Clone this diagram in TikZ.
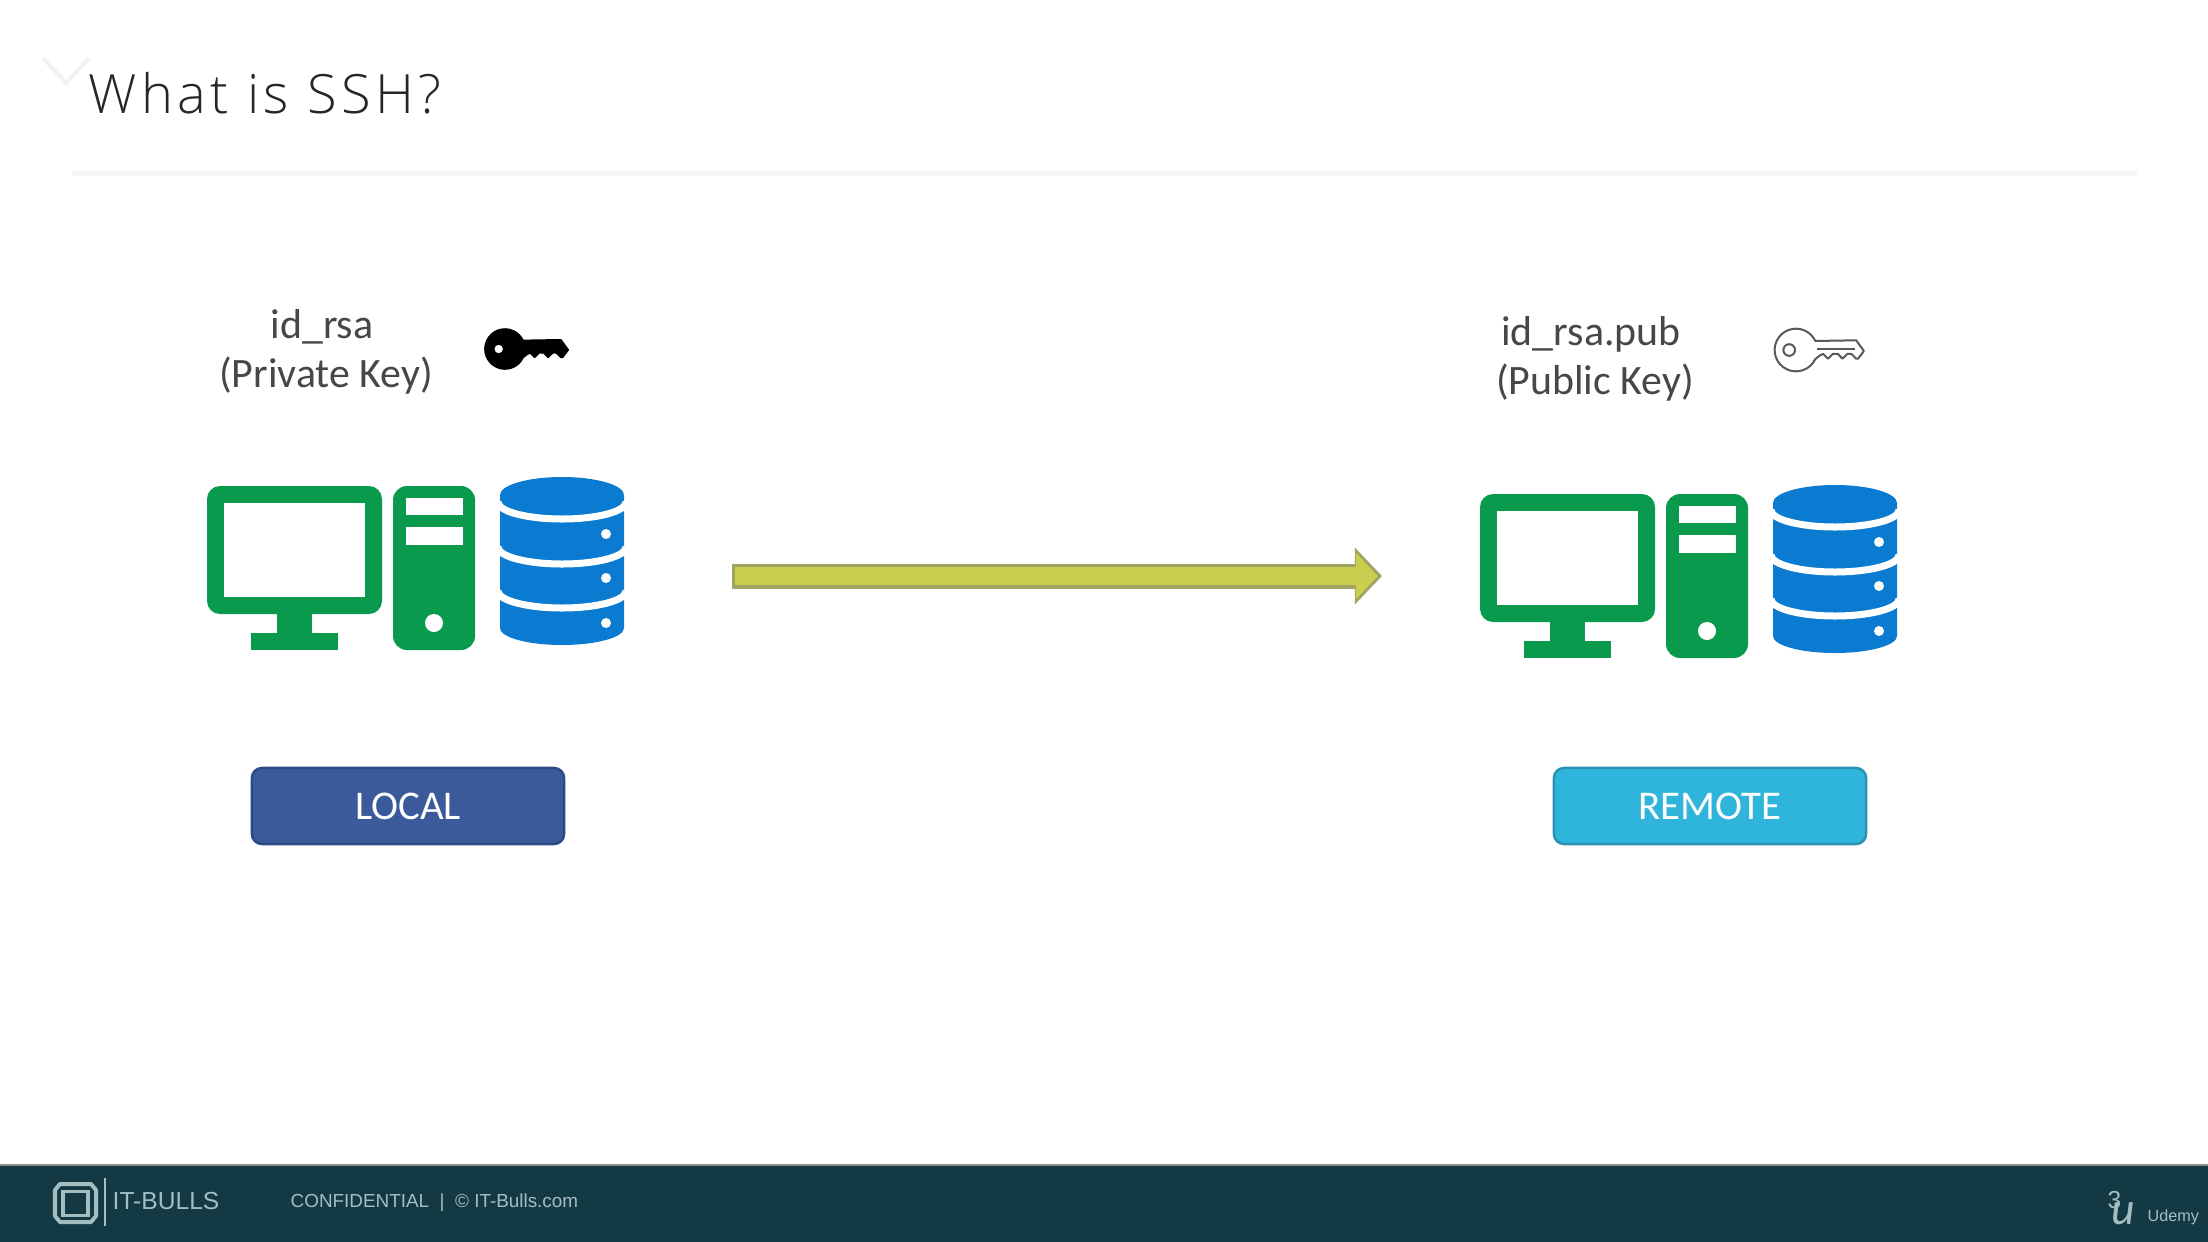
\documentclass[tikz,border=0pt]{standalone}
\usepackage{fontspec}
\setmainfont{Carlito}
\newfontfamily\titlefont[LetterSpace=8]{Open Sans Light}
\newfontfamily\footerfont{Liberation Sans}
\usetikzlibrary{positioning, arrows.meta, calc}

\definecolor{pcgreen}{HTML}{0A9A4E}
\definecolor{dbblue}{HTML}{0A7BD0}
\definecolor{footerbg}{HTML}{133A44}
\definecolor{footertxt}{HTML}{A3BDC1}
\definecolor{arrowfill}{HTML}{C9CE4E}
\definecolor{arrowedge}{HTML}{A0A463}
\definecolor{localfill}{HTML}{3B5A9C}
\definecolor{localedge}{HTML}{2E4A85}
\definecolor{remotefill}{HTML}{2FB5DB}
\definecolor{remoteedge}{HTML}{2A93B3}

\begin{document}
\begin{tikzpicture}[
    % GLOBAL SETTINGS
    x=0.01cm,
    y=-0.01cm,
    % STYLES
    heading/.style={font=\titlefont\fontsize{15.4}{18}\selectfont, text=black!85, inner sep=0pt},
    key_label/.style={font=\fontsize{11.9}{13.9}\selectfont, text=black!72, align=center, inner sep=0pt},
    host_btn/.style={rounded corners=.1cm, line width=.025cm, minimum width=3.12cm, minimum height=.76cm,
        text=white, inner sep=0pt, font=\fontsize{11.6}{14}\selectfont},
    foot_text/.style={font=\footerfont\fontsize{#1}{8}\selectfont, text=footertxt, inner sep=0pt, anchor=west},
    flow_edge/.style={draw=arrowedge, line width=.25cm, -{Triangle[length=.27cm, width=.55cm]}},
    flow_core/.style={draw=arrowfill, line width=.18cm, shorten <=.025cm, shorten >=.04cm,
        -{Triangle[length=.22cm, width=.45cm]}},
    % one computer, tower and database, in the coordinates of the left one
    pics/workstation/.style={code={
        \fill[pcgreen, rounded corners=.13cm] (207,486) rectangle (382,614);
        \fill[white] (224,503) rectangle (365,597);
        \fill[pcgreen] (277,610) rectangle (312,635);
        \fill[pcgreen] (251,633) rectangle (338,650);
        \fill[pcgreen, rounded corners=.14cm] (393,486) rectangle (475,650);
        \fill[white] (406,498) rectangle (463,515);
        \fill[white] (406,527) rectangle (463,545);
        \fill[white] (434,623) circle (9);
        \fill[dbblue] (500,495) arc[start angle=180, end angle=360, x radius=62, y radius=18]
            -- (624,628) arc[start angle=0, end angle=180, x radius=62, y radius=17] -- cycle;
        \foreach \y in {502, 547, 591} {
            \draw[white, line width=.07cm] (498,\y) arc[start angle=180, end angle=0, x radius=64, y radius=17];
        }
        \foreach \y in {534, 578, 623} {
            \fill[white] (606,\y) circle (5);
        }
    }},
    pics/keyicon/.style 2 args={code={
        \draw[draw=#1, fill=#2, line width=.02cm, line join=round]
            (20,-9.3) -- (62,-10) -- (70,1) -- (64,9) -- (62,9) -- (57,4) -- (53,4) -- (48,9) -- (43,4)
            -- (38,4) -- (33,9) -- (28,4) -- (24,6) -- (19.9,9.3)
            arc[start angle=25, end angle=335, radius=22] -- cycle;
        \draw[draw=#1, line width=.02cm, fill=white] (-7,0) circle (6);
    }}
]

    \useasboundingbox (0,0) rectangle (2208,1242);

    % Title and the line below it
    \draw[black!5, line width=.04cm] (43,58) -- (66,83) -- (89,58);
    \node[heading, anchor=west] (title) at (88,93) {What is SSH?};
    \draw[black!4, line width=.05cm] (72,173) -- (2137,173);

    % Draw both hosts
    \pic (local_host) at (0,0) {workstation};
    \pic (remote_host) at (1273,8) {workstation};

    % Key labels and keys
    \node[key_label] (private_label) at (326,352) {id\_rsa\hspace*{.08cm}\\(Private Key)};
    \node[key_label] (public_label) at (1595,359) {id\_rsa.pub\hspace*{.08cm}\\(Public Key)};
    \pic[scale=.9] (private_key) at (505,349) {keyicon={black}{black}};
    \pic[scale=.97] (public_key) at (1796,350) {keyicon={black!65}{white}};
    \draw[black!65, line width=.02cm] (1817,349) -- (1855,349);

    % Arrow from local to remote
    \coordinate (flow_start) at (732,576);
    \coordinate (flow_end) at (1382,576);
    \draw[flow_edge] (flow_start) -- (flow_end);
    \draw[flow_core] (flow_start) -- (flow_end);

    % Buttons
    \node[host_btn, draw=localedge, fill=localfill] (local_btn) at (408,806) {LOCAL};
    \node[host_btn, draw=remoteedge, fill=remotefill] (remote_btn) at (1710,806) {REMOTE};

    % Footer
    \fill[footerbg] (0,1165) rectangle (2208,1242);
    \draw[black!45, line width=.015cm] (0,1165) -- (2208,1165);
    \draw[footertxt, line width=.04cm, line join=round] (60,1184) -- (91,1184) -- (96,1190) -- (96,1216)
        -- (91,1222) -- (60,1222) -- (55,1216) -- (55,1190) -- cycle;
    \draw[footertxt, line width=.03cm] (63,1191) rectangle (88,1215);
    \draw[footertxt, line width=.015cm] (105,1178) -- (105,1226);
    \node[foot_text=7] (brand) at (112,1201) {IT-BULLS};
    \node[foot_text=5.37] (notice) at (290,1203) {CONFIDENTIAL\ \ |\ \ \textcopyright\ IT-Bulls.com};
    \node[foot_text=7] (lesson) at (2107,1200) {3};
    \node[foot_text=11, font=\itshape\fontsize{13}{14}\selectfont] (udemy_mark) at (2111,1214) {u};
    \node[foot_text=4.6] (udemy) at (2147,1217) {Udemy};

\end{tikzpicture}
\end{document}
